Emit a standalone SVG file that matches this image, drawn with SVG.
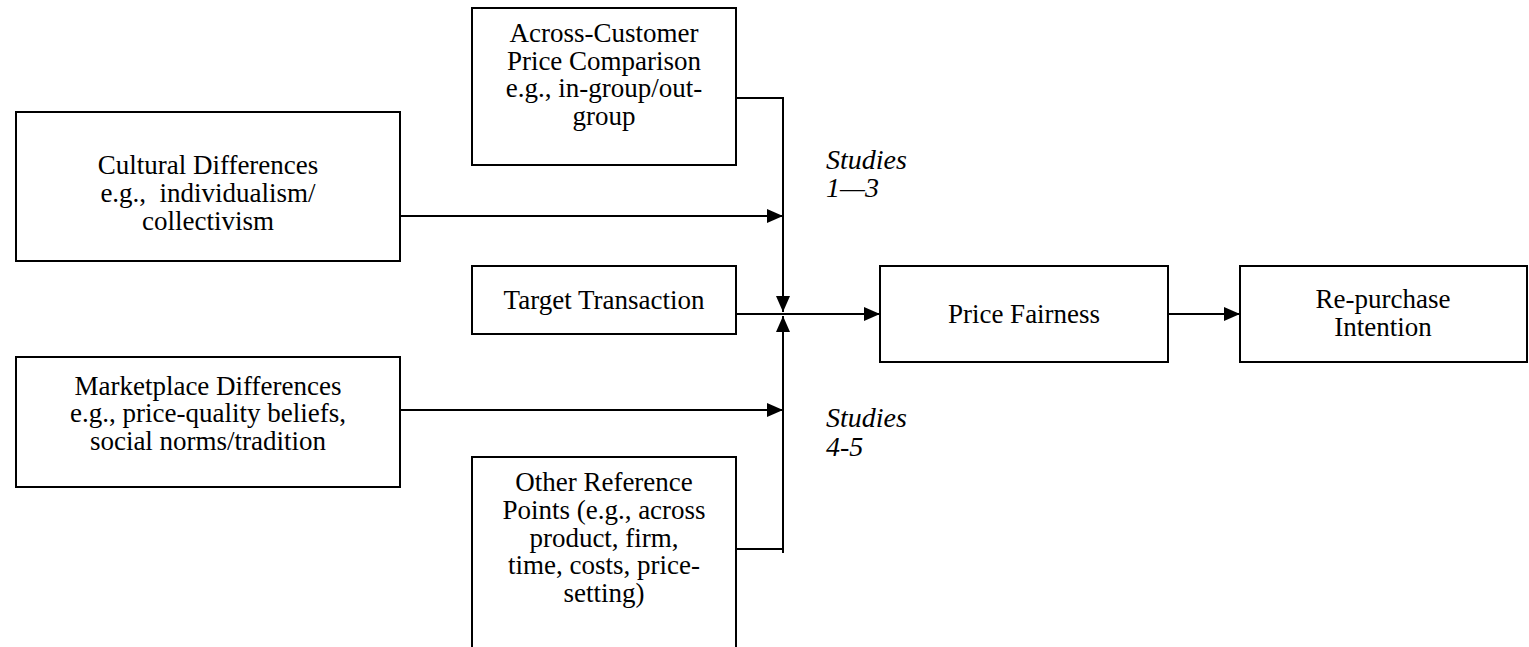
<svg xmlns="http://www.w3.org/2000/svg" width="1529" height="647" viewBox="0 0 1529 647">
  <style>
    .box { fill: #ffffff; stroke: #000000; stroke-width: 2; }
    .lbl { font-family: "Liberation Serif", "Times New Roman", serif; font-size: 27px; fill: #000000; text-anchor: middle; }
    .note { font-family: "Liberation Serif", "Times New Roman", serif; font-size: 28px; font-style: italic; fill: #000000; }
    .wire { fill: none; stroke: #000000; stroke-width: 2; }
  </style>
  <defs>
    <marker id="head" viewBox="0 0 16 14" refX="16" refY="7" markerWidth="16" markerHeight="14" markerUnits="userSpaceOnUse" orient="auto">
      <path d="M0,0 L16,7 L0,14 Z" fill="#000000"/>
    </marker>
  </defs>
  <rect width="1529" height="647" fill="#ffffff"/>

  <!-- connectors -->
  <g id="connectors">
    <path class="wire" d="M736,98 H783 V312" marker-end="url(#head)"/>
    <path class="wire" d="M736,549 H783 V316" marker-end="url(#head)"/>
    <line class="wire" x1="783" y1="549" x2="783" y2="553"/>
    <line class="wire" x1="400" y1="216" x2="783" y2="216" marker-end="url(#head)"/>
    <line class="wire" x1="400" y1="410" x2="783" y2="410" marker-end="url(#head)"/>
    <line class="wire" x1="736" y1="314" x2="880" y2="314" marker-end="url(#head)"/>
    <line class="wire" x1="1168" y1="314" x2="1240" y2="314" marker-end="url(#head)"/>
  </g>

  <g id="across-customer">
    <rect class="box" x="472" y="8" width="264" height="157"/>
    <text class="lbl" x="604" y="42">Across-Customer</text>
    <text class="lbl" x="604" y="70">Price Comparison</text>
    <text class="lbl" x="604" y="97">e.g., in-group/out-</text>
    <text class="lbl" x="604" y="125">group</text>
  </g>

  <g id="cultural">
    <rect class="box" x="16" y="112" width="384" height="149"/>
    <text class="lbl" x="208" y="174">Cultural Differences</text>
    <text class="lbl" x="208" y="202" xml:space="preserve">e.g.,  individualism/</text>
    <text class="lbl" x="208" y="230">collectivism</text>
  </g>

  <g id="target">
    <rect class="box" x="472" y="266" width="264" height="68"/>
    <text class="lbl" x="604" y="309">Target Transaction</text>
  </g>

  <g id="marketplace">
    <rect class="box" x="16" y="357" width="384" height="130"/>
    <text class="lbl" x="208" y="395">Marketplace Differences</text>
    <text class="lbl" x="208" y="422">e.g., price-quality beliefs,</text>
    <text class="lbl" x="208" y="450">social norms/tradition</text>
  </g>

  <g id="other-reference">
    <rect class="box" x="472" y="457" width="264" height="200"/>
    <text class="lbl" x="604" y="491">Other Reference</text>
    <text class="lbl" x="604" y="519">Points (e.g., across</text>
    <text class="lbl" x="604" y="547">product, firm,</text>
    <text class="lbl" x="604" y="574">time, costs, price-</text>
    <text class="lbl" x="604" y="602">setting)</text>
  </g>

  <g id="price-fairness">
    <rect class="box" x="880" y="266" width="288" height="96"/>
    <text class="lbl" x="1024" y="323">Price Fairness</text>
  </g>

  <g id="repurchase">
    <rect class="box" x="1240" y="266" width="287" height="96"/>
    <text class="lbl" x="1383" y="308">Re-purchase</text>
    <text class="lbl" x="1383" y="336">Intention</text>
  </g>

  <g id="study-notes">
    <text class="note" x="826" y="169">Studies</text>
    <text class="note" x="826" y="197">1—3</text>
    <text class="note" x="826" y="427">Studies</text>
    <text class="note" x="826" y="456">4-5</text>
  </g>
</svg>
